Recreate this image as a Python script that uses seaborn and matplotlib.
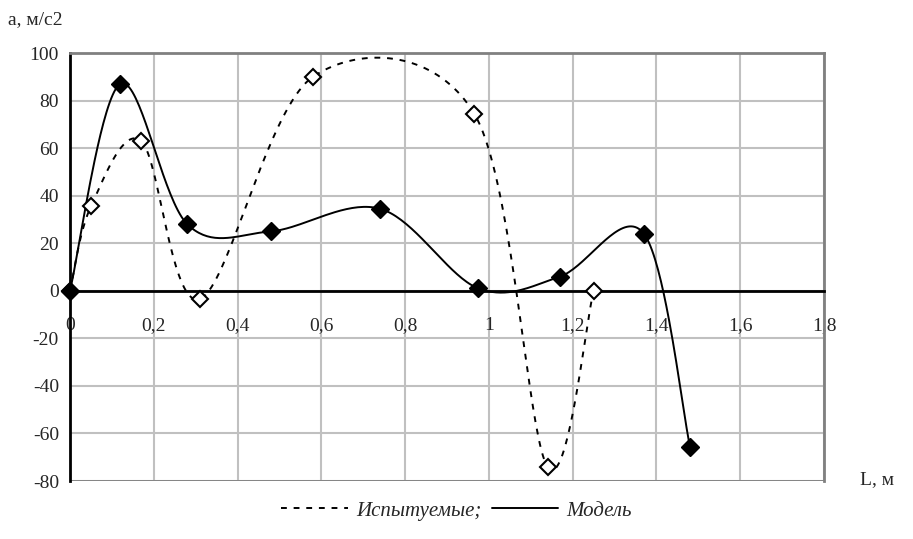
import numpy as np
import pandas as pd
import matplotlib
matplotlib.use("Agg")
from matplotlib import pyplot as plt
import seaborn as sns

# Data
x_test = [0.0, 0.05, 0.17, 0.31, 0.58, 0.965, 1.14, 1.25]
a_test = [0.0, 35.5, 63.0, -3.5, 90.0, 74.5, -74.0, 0.0]

x_model = [0.0, 0.12, 0.28, 0.48, 0.74, 0.975, 1.17, 1.37, 1.48]
a_model = [0.0, 87.0, 28.0, 25.0, 34.5, 1.0, 6.0, 24.0, -65.5]

x_ticks = [0, 0.2, 0.4, 0.6, 0.8, 1.0, 1.2, 1.4, 1.6, 1.8]
x_tick_labels = ['0', '0,2', '0,4', '0,6', '0,8', '1', '1,2', '1,4', '1,6', '1,8']
y_ticks = [-80, -60, -40, -20, 0, 20, 40, 60, 80, 100]


def smooth(xs, ys, n=40):
    # Excel-like smoothed line: Catmull-Rom through the points as cubic Bezier
    p = np.column_stack([xs, ys]).astype(float)
    p_ext = np.vstack([p[0], p, p[-1]])
    out = []
    for i in range(len(p) - 1):
        p0, p1, p2, p3 = p_ext[i], p_ext[i + 1], p_ext[i + 2], p_ext[i + 3]
        c1 = p1 + (p2 - p0) / 6
        c2 = p2 - (p3 - p1) / 6
        t = np.linspace(0, 1, n)[:, None]
        seg = ((1 - t) ** 3) * p1 + 3 * ((1 - t) ** 2) * t * c1 + \
            3 * (1 - t) * t ** 2 * c2 + t ** 3 * p2
        out.append(seg if i == 0 else seg[1:])
    out = np.vstack(out)
    return pd.DataFrame({'L': out[:, 0], 'a': out[:, 1]})


sns.set_style('white')
plt.rcParams['font.family'] = ['Liberation Serif', 'DejaVu Serif']
plt.rcParams['axes.unicode_minus'] = False

fig = plt.figure(figsize=(9.13, 5.39), dpi=100)
ax = fig.add_axes([70 / 913, 58 / 539, 754 / 913, 428 / 539])

grid_c = '#c0c0c0'
ax.set_xlim(0, 1.8)
ax.set_ylim(-80, 100)
ax.set_xticks(x_ticks)
ax.set_yticks(y_ticks)
ax.grid(True, color=grid_c, lw=1.5, zorder=0)
ax.set_axisbelow(True)

df_test = smooth(x_test, a_test)
df_model = smooth(x_model, a_model)

sns.lineplot(data=df_test, x='L', y='a', sort=False, ax=ax, color='black',
             lw=1.4, dashes=False, zorder=3)
ax.lines[-1].set_dashes((3, 3.5))
sns.lineplot(data=df_model, x='L', y='a', sort=False, ax=ax, color='black',
             lw=1.4, zorder=3)

ax.plot(x_test, a_test, ls='none', marker='D', ms=8, mfc='white',
        mec='black', mew=1.5, zorder=4, clip_on=False)
ax.plot(x_model, a_model, ls='none', marker='D', ms=9.5, mfc='black',
        mec='black', zorder=5, clip_on=False)

for side in ['top', 'right']:
    ax.spines[side].set_color('#808080')
    ax.spines[side].set_linewidth(2)
ax.spines['left'].set_color('black')
ax.spines['left'].set_linewidth(2)
ax.spines['bottom'].set_position(('data', 0))
ax.spines['bottom'].set_color('black')
ax.spines['bottom'].set_linewidth(2)
ax.axhline(-80, color='#808080', lw=2, zorder=1)

ax.set_xticklabels(x_tick_labels)
ax.tick_params(axis='x', direction='out', length=5, width=2, pad=14,
               labelsize=14, color='black')
ax.tick_params(axis='y', direction='out', length=5, width=2, pad=3,
               labelsize=14, color='black')
ax.set_xlabel('')
ax.set_ylabel('')

fig.text(8 / 913, 1 - 20 / 539, 'а, м/с2', fontsize=14, va='center', ha='left')
fig.text(860 / 913, 1 - 480 / 539, 'L, м', fontsize=14, va='center', ha='left')

h1, = ax.plot([], [], color='black', lw=1.4, dashes=(3, 3.5))
h2, = ax.plot([], [], color='black', lw=1.4)
fig.legend([h1, h2], ['Испытуемые;', 'Модель'], loc='center',
           bbox_to_anchor=(0.5, 1 - 511 / 539), ncol=2, frameon=False,
           prop={'style': 'italic', 'size': 15}, handlelength=3.2,
           handletextpad=0.4, columnspacing=0.5)

fig.savefig('out.png', dpi=100)
